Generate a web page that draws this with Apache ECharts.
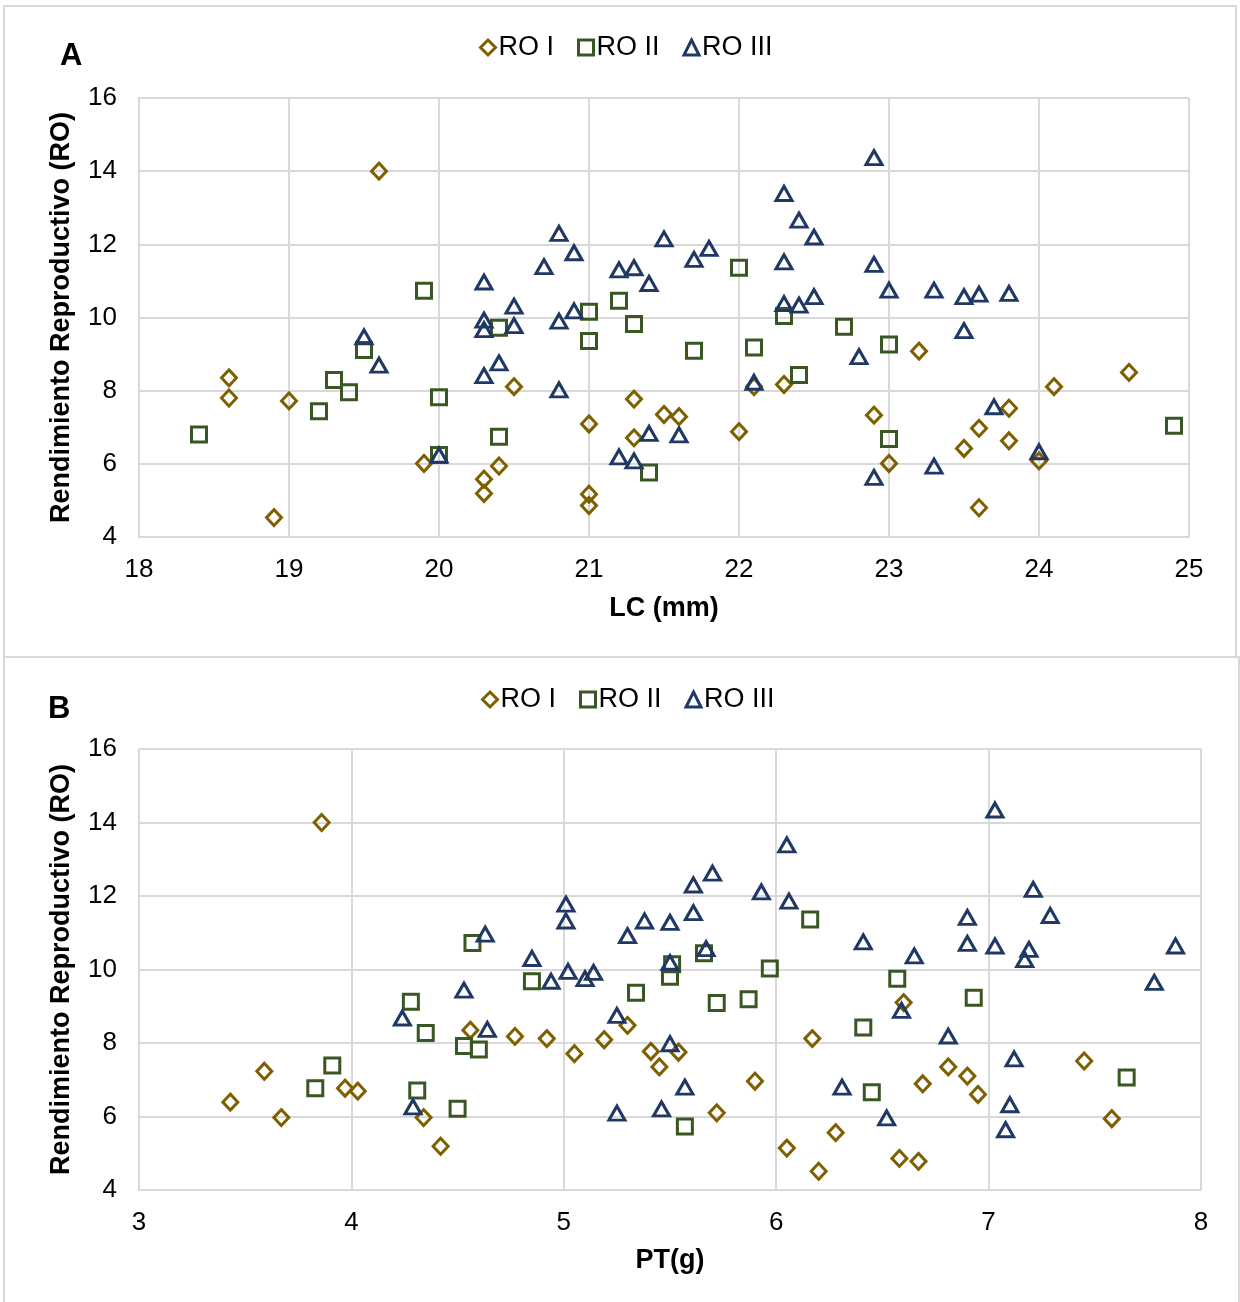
<!DOCTYPE html>
<html><head><meta charset="utf-8">
<script src="https://cdn.jsdelivr.net/npm/echarts@6/dist/echarts.min.js"></script>
<style>
html,body{margin:0;padding:0;background:#fff;}
#frameA{position:absolute;left:3px;top:5px;width:1234px;height:653px;box-sizing:border-box;border:2px solid #d9d9d9;}
#frameB{position:absolute;left:3px;top:656px;width:1237px;height:660px;box-sizing:border-box;border:2px solid #d9d9d9;}
#chart{position:absolute;left:0;top:0;width:1240px;height:1302px;}
</style></head><body>
<div id="frameA"></div><div id="frameB"></div><div id="chart"></div>
<script>
// Panel A: LC (mm) vs RO
const lcRoI = [[18.6,8.35],[18.6,7.8],[19.0,7.72],[18.9,4.53],[19.6,14.0],[19.9,6.01],[20.3,5.58],[20.3,5.19],[20.4,5.94],[20.5,8.11],[21.0,7.09],[21.0,5.17],[21.0,4.86],[21.3,7.77],[21.3,6.71],[21.5,7.35],[21.6,7.29],[22.0,6.88],[22.1,8.11],[22.3,8.17],[22.9,7.33],[23.0,6.01],[23.2,9.08],[23.5,6.42],[23.6,6.97],[23.6,4.8],[23.8,7.52],[23.8,6.63],[24.0,6.08],[24.1,8.11],[24.6,8.5]];
const lcRoII = [[18.4,6.8],[19.9,10.73],[19.5,9.11],[19.3,8.29],[19.4,7.96],[19.2,7.44],[20.0,7.82],[20.0,6.24],[20.4,9.72],[20.4,6.74],[21.0,10.16],[21.0,9.36],[21.2,10.46],[21.3,9.82],[21.4,5.76],[21.7,9.09],[22.0,11.36],[22.1,9.18],[22.3,10.04],[22.4,8.43],[22.7,9.75],[23.0,9.26],[23.0,6.68],[24.9,7.04]];
const lcRoIII = [[19.5,9.47],[19.6,8.7],[20.0,6.24],[20.3,10.97],[20.3,9.93],[20.3,9.67],[20.3,8.41],[20.5,10.31],[20.5,9.78],[20.4,8.76],[20.7,11.39],[20.8,12.3],[20.9,11.77],[20.8,9.9],[20.9,10.18],[20.8,8.02],[21.2,11.3],[21.3,11.36],[21.4,10.93],[21.5,12.15],[21.7,11.59],[21.8,11.89],[21.4,6.83],[21.6,6.79],[21.2,6.19],[21.3,6.08],[22.1,8.23],[22.3,13.39],[22.4,12.66],[22.5,12.2],[22.3,11.52],[22.3,10.38],[22.4,10.34],[22.5,10.57],[22.9,14.37],[22.9,11.45],[23.0,10.75],[23.3,10.75],[23.5,10.57],[23.6,10.64],[23.8,10.66],[23.5,9.64],[22.8,8.93],[23.7,7.56],[24.0,6.33],[23.3,5.94],[22.9,5.63]];
// Panel B: PT (g) vs RO
const ptRoI = [[3.86,14.0],[3.59,7.23],[3.43,6.39],[3.67,5.97],[3.97,6.77],[4.03,6.69],[4.56,8.35],[4.77,8.18],[4.34,5.97],[4.42,5.19],[4.92,8.12],[5.05,7.71],[5.19,8.09],[5.30,8.48],[5.41,7.77],[5.54,7.75],[5.45,7.35],[5.90,6.96],[5.72,6.10],[6.17,8.12],[6.05,5.14],[6.20,4.51],[6.28,5.56],[6.60,9.10],[7.45,7.51],[6.81,7.35],[6.90,7.10],[6.95,6.60],[6.69,6.89],[7.58,5.94],[6.58,4.86],[6.67,4.78]];
const ptRoII = [[4.57,10.72],[4.28,9.12],[4.35,8.27],[4.53,7.92],[4.60,7.82],[3.91,7.39],[3.83,6.77],[4.31,6.71],[4.50,6.21],[4.85,9.68],[5.34,9.37],[5.51,10.14],[5.50,9.80],[5.66,10.44],[5.72,9.09],[5.87,9.19],[5.97,10.03],[6.16,11.36],[5.57,5.73],[6.57,9.75],[6.93,9.23],[6.41,8.42],[6.45,6.66],[7.65,7.06]];
const ptRoIII = [[4.63,10.96],[4.53,9.44],[4.24,8.68],[4.64,8.37],[4.29,6.26],[4.85,10.30],[4.94,9.68],[5.01,11.78],[5.01,11.32],[5.02,9.95],[5.10,9.75],[5.14,9.92],[5.30,10.92],[5.38,11.32],[5.50,11.28],[5.61,12.30],[5.70,12.62],[5.61,11.55],[5.67,10.57],[5.50,10.19],[5.25,8.75],[5.50,7.98],[5.57,6.80],[5.25,6.09],[5.46,6.21],[5.93,12.11],[6.05,13.39],[6.06,11.86],[7.03,14.34],[7.21,12.18],[7.29,11.47],[6.90,11.42],[6.41,10.75],[6.90,10.71],[7.03,10.64],[7.19,10.55],[7.17,10.27],[6.65,10.37],[7.88,10.64],[7.78,9.65],[6.59,8.89],[6.81,8.19],[7.12,7.57],[6.31,6.80],[7.10,6.32],[6.52,5.96],[7.08,5.64]];

const seriesNames = ['RO I','RO II','RO III'];
const xTitles = ['LC (mm)','PT(g)'];
const yTitle = 'Rendimiento Reproductivo (RO)';
const panelLabels = ['A','B'];

const FONT = '"Liberation Sans", Arial, sans-serif';
const GRID = '#d9d9d9';
const styles = [
  {symbol:'diamond', size:[15,16], color:'#7f6000'},
  {symbol:'rect', size:[15,15], color:'#385723'},
  {symbol:'triangle', size:[16,14], color:'#1f3864'}
];

function mkSeries(name, data, idx, style){
  return {
    name: name, type:'scatter', xAxisIndex: idx, yAxisIndex: idx,
    data: data, symbol: style.symbol, symbolSize: style.size,
    itemStyle:{color:'rgba(255,255,255,0)', borderColor: style.color, borderWidth:3, opacity:1},
    emphasis:{disabled:true}
  };
}
function mkX(idx, min, max, name, gap){
  return {
    gridIndex: idx, type:'value', min:min, max:max, interval:1,
    name:name, nameLocation:'middle', nameGap:gap,
    nameTextStyle:{fontFamily:FONT, fontWeight:'bold', fontSize:27, color:'#000'},
    axisLine:{show:true, onZero:false, lineStyle:{color:GRID, width:2}},
    axisTick:{show:false},
    axisLabel:{fontFamily:FONT, fontSize:26, color:'#000', margin:20},
    splitLine:{show:true, lineStyle:{color:GRID, width:2}}
  };
}
function mkY(idx){
  return {
    gridIndex: idx, type:'value', min:4, max:16, interval:2,
    name:yTitle, nameLocation:'middle', nameGap:64, nameRotate:90,
    nameTextStyle:{fontFamily:FONT, fontWeight:'bold', fontSize:27, color:'#000'},
    axisLine:{show:true, onZero:false, lineStyle:{color:GRID, width:2}},
    axisTick:{show:false},
    axisLabel:{fontFamily:FONT, fontSize:26, color:'#000', margin:22},
    splitLine:{show:true, lineStyle:{color:GRID, width:2}}
  };
}
function mkLegend(left, top){
  return {
    left:left, top:top, data:seriesNames, itemWidth:15, itemHeight:15, itemGap:23,
    itemStyle:{borderWidth:3, opacity:1},
    textStyle:{fontFamily:FONT, fontSize:27, color:'#000', padding:[0,0,0,-2]}, selectedMode:false
  };
}

const chart = echarts.init(document.getElementById('chart'), null, {renderer:'canvas'});
chart.setOption({
  animation:false,
  backgroundColor:'transparent',
  textStyle:{fontFamily:FONT},
  title:[
    {text:panelLabels[0], left:60, top:41, padding:0, textStyle:{fontFamily:FONT, fontWeight:'bold', fontSize:31, color:'#000'}},
    {text:panelLabels[1], left:48, top:694, padding:0, textStyle:{fontFamily:FONT, fontWeight:'bold', fontSize:31, color:'#000'}}
  ],
  legend:[mkLegend(474, 29), mkLegend(476, 681)],
  grid:[
    {left:139, top:98, width:1050, height:439},
    {left:139, top:749, width:1062, height:441}
  ],
  xAxis:[mkX(0,18,25,xTitles[0],58), mkX(1,3,8,xTitles[1],57)],
  yAxis:[mkY(0), mkY(1)],
  series:[
    mkSeries(seriesNames[0], lcRoI, 0, styles[0]),
    mkSeries(seriesNames[1], lcRoII, 0, styles[1]),
    mkSeries(seriesNames[2], lcRoIII, 0, styles[2]),
    mkSeries(seriesNames[0], ptRoI, 1, styles[0]),
    mkSeries(seriesNames[1], ptRoII, 1, styles[1]),
    mkSeries(seriesNames[2], ptRoIII, 1, styles[2])
  ]
});
</script></body></html>
